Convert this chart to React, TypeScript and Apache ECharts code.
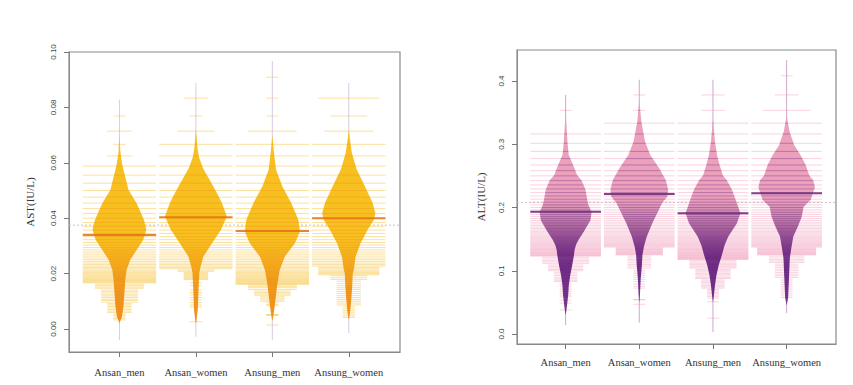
import React, { useEffect, useRef } from "react";
import * as echarts from "echarts";

// ---------- categories ----------
const categories = ["Ansan_men", "Ansan_women", "Ansung_men", "Ansung_women"];

// ---------- AST panel (plotted as 1 / AST) ----------
const astTicks = [0, 0.02, 0.04, 0.06, 0.08, 0.1];
const astMeans = [0.0339, 0.0403, 0.0354, 0.04];
const astOverallMean = 0.0375;
const astExtent = [
  [-0.004, 0.0828],
  [-0.0028, 0.0888],
  [-0.004, 0.0967],
  [-0.0015, 0.0888],
];
// density profiles: [plotted value, relative density]
const astAnsanMenDensity = [
  [0.07, 0], [0.064, 0.03], [0.06, 0.08], [0.0575, 0.13], [0.054, 0.21], [0.0503, 0.29],
  [0.0455, 0.55], [0.042, 0.69], [0.0394, 0.79], [0.0358, 0.87], [0.0322, 0.77], [0.0286, 0.56],
  [0.025, 0.35], [0.0213, 0.23], [0.0177, 0.19], [0.013, 0.16], [0.0081, 0.13], [0.0044, 0.08],
  [0.0026, 0.02], [0.002, 0],
];
const astAnsanWomenDensity = [
  [0.072, 0], [0.0653, 0.05], [0.062, 0.1], [0.058, 0.23], [0.0515, 0.56], [0.048, 0.73],
  [0.0455, 0.84], [0.0406, 1.0], [0.0358, 0.81], [0.031, 0.52], [0.0261, 0.24], [0.0225, 0.15],
  [0.0201, 0.11], [0.0129, 0.08], [0.0069, 0.06], [0.003, 0.02], [0.002, 0],
];
const astAnsungMenDensity = [
  [0.07, 0], [0.064, 0.05], [0.0575, 0.12], [0.0515, 0.32], [0.0455, 0.61], [0.0394, 0.84],
  [0.0352, 0.89], [0.031, 0.73], [0.0261, 0.4], [0.0213, 0.24], [0.0201, 0.22], [0.0153, 0.15],
  [0.0105, 0.1], [0.0069, 0.06], [0.0039, 0.02], [0.003, 0],
];
const astAnsungWomenDensity = [
  [0.072, 0], [0.069, 0.03], [0.0635, 0.1], [0.0578, 0.25], [0.0515, 0.52], [0.0455, 0.77],
  [0.0418, 0.86], [0.0394, 0.81], [0.0358, 0.61], [0.031, 0.38], [0.0261, 0.22], [0.0213, 0.16],
  [0.0201, 0.13], [0.0153, 0.11], [0.0105, 0.08], [0.0069, 0.05], [0.0044, 0.02], [0.0035, 0],
];
// observed AST levels (IU/L): consecutive runs [first, last, count (6 = 6+)]
const astAnsanMenRuns = [[13, 13, 1], [14, 14, 2], [15, 15, 1], [16, 16, 2], [17, 60, 6]];
const astAnsanWomenRuns = [[12, 12, 2], [13, 13, 1], [14, 14, 3], [15, 46, 6], [47, 48, 3], [49, 56, 2]];
const astAnsungMenRuns = [[11, 11, 1], [12, 12, 1], [13, 13, 1], [14, 14, 4], [15, 62, 6]];
const astAnsungWomenRuns = [[12, 12, 5], [13, 13, 3], [14, 14, 4], [15, 44, 6], [45, 51, 5]];
// sparse upper-tail AST levels: [level, count]
const astAnsanMenTail = [
  [62, 4], [64, 4], [66, 4], [68, 4], [71, 3], [74, 3], [77, 3], [81, 3], [84, 3], [88, 3], [93, 3],
  [97, 3], [103, 3], [109, 2], [115, 2], [123, 2], [132, 2], [143, 2], [154, 2], [167, 2], [185, 1],
  [204, 1], [233, 1], [263, 1], [303, 1],
];
const astAnsanWomenTail = [
  [60, 1], [64, 1], [71, 1], [76, 1], [81, 1], [88, 1], [95, 1], [105, 1], [115, 1], [125, 1], [380, 1],
];
const astAnsungMenTail = [
  [63, 4], [65, 4], [67, 4], [70, 4], [73, 3], [76, 3], [79, 3], [82, 3], [86, 2], [90, 2], [95, 2],
  [100, 2], [106, 1], [113, 1], [120, 1], [193, 1], [197, 1], [200, 1], [690, 1],
];
const astAnsungWomenTail = [
  [52, 3], [54, 3], [56, 3], [58, 2], [61, 2], [64, 2], [67, 2], [70, 2], [74, 2], [78, 2], [83, 2],
  [88, 2], [94, 2], [100, 2], [107, 2], [115, 2], [125, 1], [137, 1], [150, 1], [165, 1], [185, 1],
  [210, 1], [240, 1],
];

// ---------- ALT panel (plotted as 1 / sqrt(ALT)) ----------
const altTicks = [0, 0.1, 0.2, 0.3, 0.4];
const altMeans = [0.1934, 0.2213, 0.1908, 0.2224];
const altOverallMean = 0.208;
const altExtent = [
  [0.014, 0.378],
  [0.018, 0.402],
  [0.003, 0.402],
  [0.033, 0.433],
];
const altAnsanMenDensity = [
  [0.36, 0], [0.336, 0.02], [0.3, 0.07], [0.283, 0.11], [0.267, 0.26], [0.251, 0.4], [0.243, 0.55],
  [0.228, 0.69], [0.212, 0.75], [0.204, 0.79], [0.193, 0.9], [0.18, 0.86], [0.164, 0.66],
  [0.149, 0.45], [0.141, 0.36], [0.133, 0.31], [0.125, 0.29], [0.109, 0.23], [0.093, 0.16],
  [0.077, 0.11], [0.062, 0.09], [0.046, 0.05], [0.035, 0.02], [0.03, 0],
];
const altAnsanWomenDensity = [
  [0.37, 0], [0.336, 0.07], [0.304, 0.2], [0.283, 0.38], [0.262, 0.69], [0.243, 0.92],
  [0.228, 1.0], [0.217, 0.97], [0.207, 0.79], [0.191, 0.62], [0.175, 0.45], [0.154, 0.26],
  [0.138, 0.16], [0.125, 0.11], [0.109, 0.09], [0.088, 0.05], [0.06, 0.02], [0.05, 0],
];
const altAnsungMenDensity = [
  [0.34, 0], [0.304, 0.07], [0.283, 0.14], [0.267, 0.23], [0.251, 0.34], [0.243, 0.48],
  [0.228, 0.66], [0.212, 0.79], [0.191, 0.95], [0.175, 0.83], [0.154, 0.53], [0.14, 0.4],
  [0.125, 0.31], [0.109, 0.2], [0.093, 0.12], [0.077, 0.07], [0.06, 0.03], [0.05, 0],
];
const altAnsungWomenDensity = [
  [0.345, 0], [0.32, 0.1], [0.299, 0.26], [0.283, 0.48], [0.267, 0.66], [0.251, 0.78],
  [0.243, 0.92], [0.232, 0.98], [0.212, 0.83], [0.201, 0.59], [0.185, 0.52], [0.17, 0.39],
  [0.154, 0.23], [0.138, 0.17], [0.12, 0.11], [0.098, 0.09], [0.077, 0.07], [0.057, 0.05],
  [0.045, 0],
];
// observed ALT levels (IU/L): consecutive runs [first, last, count (6 = 6+)]
const altAnsanMenRuns = [[8, 8, 1], [10, 66, 6]];
const altAnsanWomenRuns = [[7, 7, 1], [8, 8, 1], [9, 53, 6], [54, 64, 4]];
const altAnsungMenRuns = [[7, 7, 2], [8, 8, 2], [9, 72, 6]];
const altAnsungWomenRuns = [[6, 6, 1], [7, 7, 2], [8, 8, 4], [9, 53, 6], [54, 64, 5]];
// sparse upper-tail ALT levels: [level, count]
const altAnsanMenTail = [
  [68, 4], [71, 4], [74, 4], [77, 4], [80, 4], [84, 3], [88, 3], [92, 3], [96, 3], [100, 3],
  [105, 2], [111, 2], [117, 2], [124, 2], [131, 2], [138, 2], [145, 2], [155, 1], [165, 1],
  [176, 1], [190, 1], [205, 1], [222, 1], [242, 1], [265, 1], [290, 1], [350, 1], [420, 1], [690, 1],
];
const altAnsanWomenTail = [
  [66, 2], [69, 2], [72, 2], [75, 2], [79, 2], [83, 2], [87, 2], [92, 2], [98, 1], [104, 1],
  [110, 1], [117, 1], [125, 1], [134, 1], [145, 1], [160, 1], [175, 1], [190, 1], [335, 1],
  [345, 1], [452, 1],
];
const altAnsungMenTail = [
  [74, 4], [77, 4], [80, 4], [83, 4], [86, 4], [89, 4], [92, 4], [96, 3], [100, 3], [104, 3],
  [109, 3], [114, 3], [119, 3], [125, 3], [130, 3], [137, 2], [144, 2], [152, 2], [160, 2],
  [170, 2], [180, 2], [190, 2], [202, 1], [215, 1], [230, 1], [246, 1], [265, 1], [285, 1],
  [310, 1], [385, 1], [1600, 1],
];
const altAnsungWomenTail = [
  [66, 3], [69, 3], [72, 3], [75, 3], [78, 3], [82, 2], [86, 2], [90, 2], [95, 2], [100, 2],
  [106, 2], [112, 2], [118, 2], [125, 2], [133, 1], [142, 1], [152, 1], [163, 1], [176, 1],
  [190, 1], [206, 1], [225, 1], [248, 1], [275, 1], [300, 1],
];

// ---------- helpers ----------
type Pt = number[];

function densityAt(profile: Pt[], v: number): number {
  if (v > profile[0][0] || v < profile[profile.length - 1][0]) return 0;
  for (let i = 0; i < profile.length - 1; i++) {
    const [v0, d0] = profile[i];
    const [v1, d1] = profile[i + 1];
    if (v <= v0 && v >= v1) {
      const t = v0 === v1 ? 0 : (v0 - v) / (v0 - v1);
      return d0 + (d1 - d0) * t;
    }
  }
  return 0;
}

function collectLevels(runsByGroup: number[][][], tailsByGroup: number[][][], toPlot: (n: number) => number) {
  const items: number[][] = [];
  runsByGroup.forEach((runs, g) => {
    runs.forEach(([a, b, c]) => {
      for (let n = a; n <= b; n++) items.push([g + 1, toPlot(n), c]);
    });
    tailsByGroup[g].forEach(([n, c]) => items.push([g + 1, toPlot(n), c]));
  });
  return items;
}

interface PanelCfg {
  idx: number;
  profiles: Pt[][];
  lines: number[][];
  means: number[];
  overall: number;
  extent: number[][];
  beanHalf: number;
  xMin: number;
  xMax: number;
  fillStops: [number, string][]; // [axis value (descending), colour]
  colors: {
    inside: string;
    outside: string;
    mean: string;
    vline: string;
    overall: string;
  };
}

const LL = 0.08; // half line length per observation (x units)
const MAXW = 0.48;

function panelSeries(cfg: PanelCfg) {
  const common = {
    type: "custom",
    xAxisIndex: cfg.idx,
    yAxisIndex: cfg.idx,
    silent: true,
    animation: false,
    clip: true,
    progressive: 0,
    encode: { x: 0, y: 1 },
  };
  const overall = {
    ...common,
    data: [[cfg.xMin, cfg.overall]],
    renderItem: (_p: any, api: any) => {
      const a = api.coord([cfg.xMin, api.value(1)]);
      const b = api.coord([cfg.xMax, api.value(1)]);
      return {
        type: "line",
        shape: { x1: a[0], y1: a[1], x2: b[0], y2: b[1] },
        style: { stroke: cfg.colors.overall, lineWidth: 1, lineDash: [2, 2] },
      };
    },
  };
  const vlines = {
    ...common,
    data: cfg.extent.map((e, i) => [i + 1, e[0], e[1]]),
    renderItem: (_p: any, api: any) => {
      const x = api.value(0);
      const a = api.coord([x, api.value(1)]);
      const b = api.coord([x, api.value(2)]);
      return {
        type: "line",
        shape: { x1: a[0], y1: a[1], x2: b[0], y2: b[1] },
        style: { stroke: cfg.colors.vline, lineWidth: 1 },
      };
    },
  };
  const beans = {
    ...common,
    data: cfg.means.map((m, i) => [i + 1, m]),
    renderItem: (_p: any, api: any) => {
      const x = api.value(0);
      const prof = cfg.profiles[x - 1];
      const left = prof.map(([v, d]) => api.coord([x - d * cfg.beanHalf, v]));
      const right = prof
        .slice()
        .reverse()
        .map(([v, d]) => api.coord([x + d * cfg.beanHalf, v]));
      const stops = cfg.fillStops;
      const y0 = api.coord([x, stops[0][0]])[1];
      const y1 = api.coord([x, stops[stops.length - 1][0]])[1];
      const fill = {
        type: "linear",
        x: 0,
        y: y0,
        x2: 0,
        y2: y1,
        global: true,
        colorStops: stops.map(([v, col]) => ({
          offset: (api.coord([x, v])[1] - y0) / (y1 - y0),
          color: col,
        })),
      };
      return {
        type: "polygon",
        shape: { points: left.concat(right) },
        style: { fill, stroke: "none" },
      };
    },
  };
  const beanlines = {
    ...common,
    data: cfg.lines,
    renderItem: (_p: any, api: any) => {
      const x = api.value(0);
      const v = api.value(1);
      const c = api.value(2);
      const half = Math.min(c * LL, MAXW);
      const bh = densityAt(cfg.profiles[x - 1], v) * cfg.beanHalf;
      const inner = Math.min(half, bh);
      const children: any[] = [];
      const seg = (x1: number, x2: number, stroke: string) => {
        const a = api.coord([x1, v]);
        const b = api.coord([x2, v]);
        children.push({
          type: "line",
          shape: { x1: a[0], y1: a[1], x2: b[0], y2: b[1] },
          style: { stroke, lineWidth: 1 },
        });
      };
      if (half > bh) {
        seg(x - half, x - bh, cfg.colors.outside);
        seg(x + bh, x + half, cfg.colors.outside);
      }
      if (inner > 0) seg(x - inner, x + inner, cfg.colors.inside);
      return { type: "group", children };
    },
  };
  const means = {
    ...common,
    data: cfg.means.map((m, i) => [i + 1, m]),
    renderItem: (_p: any, api: any) => {
      const x = api.value(0);
      const a = api.coord([x - MAXW, api.value(1)]);
      const b = api.coord([x + MAXW, api.value(1)]);
      return {
        type: "line",
        shape: { x1: a[0], y1: a[1], x2: b[0], y2: b[1] },
        style: { stroke: cfg.colors.mean, lineWidth: 2 },
      };
    },
  };
  return [overall, vlines, beans, beanlines, means];
}

const AXIS_GRAY = "#8a8a8a";

function xAxis(idx: number, margin: number) {
  return {
    gridIndex: idx,
    type: "value",
    min: 0.34,
    max: 4.67,
    axisLine: { show: true, onZero: false, lineStyle: { color: AXIS_GRAY, width: 1 } },
    axisTick: {
      show: true,
      customValues: [1, 2, 3, 4],
      length: 5,
      lineStyle: { color: "#777" },
    },
    axisLabel: {
      customValues: [1, 2, 3, 4],
      formatter: (v: number) => categories[Math.round(v) - 1],
      fontFamily: "Liberation Serif",
      fontSize: 10.5,
      color: "#333",
      margin,
    },
    splitLine: { show: false },
  };
}

function yAxis(idx: number, min: number, max: number, ticks: number[], digits: number, name: string, nameGap: number) {
  return {
    gridIndex: idx,
    type: "value",
    min,
    max,
    name,
    nameLocation: "middle",
    nameGap,
    nameTextStyle: { fontFamily: "Liberation Serif", fontSize: 11, color: "#333" },
    axisLine: { show: true, onZero: false, lineStyle: { color: AXIS_GRAY, width: 1 } },
    axisTick: { show: true, customValues: ticks, length: 5, lineStyle: { color: "#777" } },
    axisLabel: {
      customValues: ticks,
      formatter: (v: number) => v.toFixed(digits),
      rotate: 90,
      align: "center",
      verticalAlign: "bottom",
      fontFamily: "Liberation Sans",
      fontSize: 8,
      color: "#444",
      margin: 12,
    },
    splitLine: { show: false },
  };
}

export default function App() {
  const ref = useRef<HTMLDivElement>(null);
  useEffect(() => {
    if (!ref.current) return;
    const chart = echarts.init(ref.current, undefined, { renderer: "svg" });
    const astLines = collectLevels(
      [astAnsanMenRuns, astAnsanWomenRuns, astAnsungMenRuns, astAnsungWomenRuns],
      [astAnsanMenTail, astAnsanWomenTail, astAnsungMenTail, astAnsungWomenTail],
      (n) => 1 / n
    );
    const altLines = collectLevels(
      [altAnsanMenRuns, altAnsanWomenRuns, altAnsungMenRuns, altAnsungWomenRuns],
      [altAnsanMenTail, altAnsanWomenTail, altAnsungMenTail, altAnsungWomenTail],
      (n) => 1 / Math.sqrt(n)
    );
    const left = panelSeries({
      idx: 0,
      profiles: [astAnsanMenDensity, astAnsanWomenDensity, astAnsungMenDensity, astAnsungWomenDensity],
      lines: astLines,
      means: astMeans,
      overall: astOverallMean,
      extent: astExtent,
      beanHalf: 0.405,
      xMin: 0.34,
      xMax: 4.67,
      fillStops: [
        [0.032, "#F7BF1F"],
        [0.022, "#F5AC20"],
        [0.013, "#F1971E"],
        [0.0, "#EF9224"],
      ],
      colors: {
        inside: "rgba(236, 138, 20, 0.3)",
        outside: "rgba(246, 188, 40, 0.45)",
        mean: "rgba(228, 112, 25, 0.85)",
        vline: "#D9CBE6",
        overall: "#C4C4C4",
      },
    });
    const right = panelSeries({
      idx: 1,
      profiles: [altAnsanMenDensity, altAnsanWomenDensity, altAnsungMenDensity, altAnsungWomenDensity],
      lines: altLines,
      means: altMeans,
      overall: altOverallMean,
      extent: altExtent,
      beanHalf: 0.392,
      xMin: 0.34,
      xMax: 4.67,
      fillStops: [
        [0.215, "#EBA0BC"],
        [0.18, "#C681AB"],
        [0.14, "#945098"],
        [0.11, "#74328A"],
        [0.0, "#7C3C8E"],
      ],
      colors: {
        inside: "rgba(100, 30, 120, 0.34)",
        outside: "rgba(240, 140, 175, 0.38)",
        mean: "rgba(110, 50, 130, 0.9)",
        vline: "#D2A6CE",
        overall: "#D0C4CC",
      },
    });
    chart.setOption({
      animation: false,
      backgroundColor: "#ffffff",
      grid: [
        { left: 69, top: 52, width: 331, height: 300, show: true, borderColor: AXIS_GRAY, borderWidth: 1.2, backgroundColor: "transparent" },
        { left: 517, top: 50, width: 319, height: 294, show: true, borderColor: AXIS_GRAY, borderWidth: 1.2, backgroundColor: "transparent" },
      ],
      xAxis: [xAxis(0, 15), xAxis(1, 13)],
      yAxis: [
        yAxis(0, -0.0083, 0.1, astTicks, 2, "AST(IU/L)", 34),
        yAxis(1, -0.0158, 0.449, altTicks, 1, "ALT(IU/L)", 31),
      ],
      series: [...left, ...right],
    });
    return () => chart.dispose();
  }, []);
  return (
    <div
      ref={ref}
      style={{ position: "absolute", left: 0, top: 0, width: 853, height: 385 }}
    />
  );
}
